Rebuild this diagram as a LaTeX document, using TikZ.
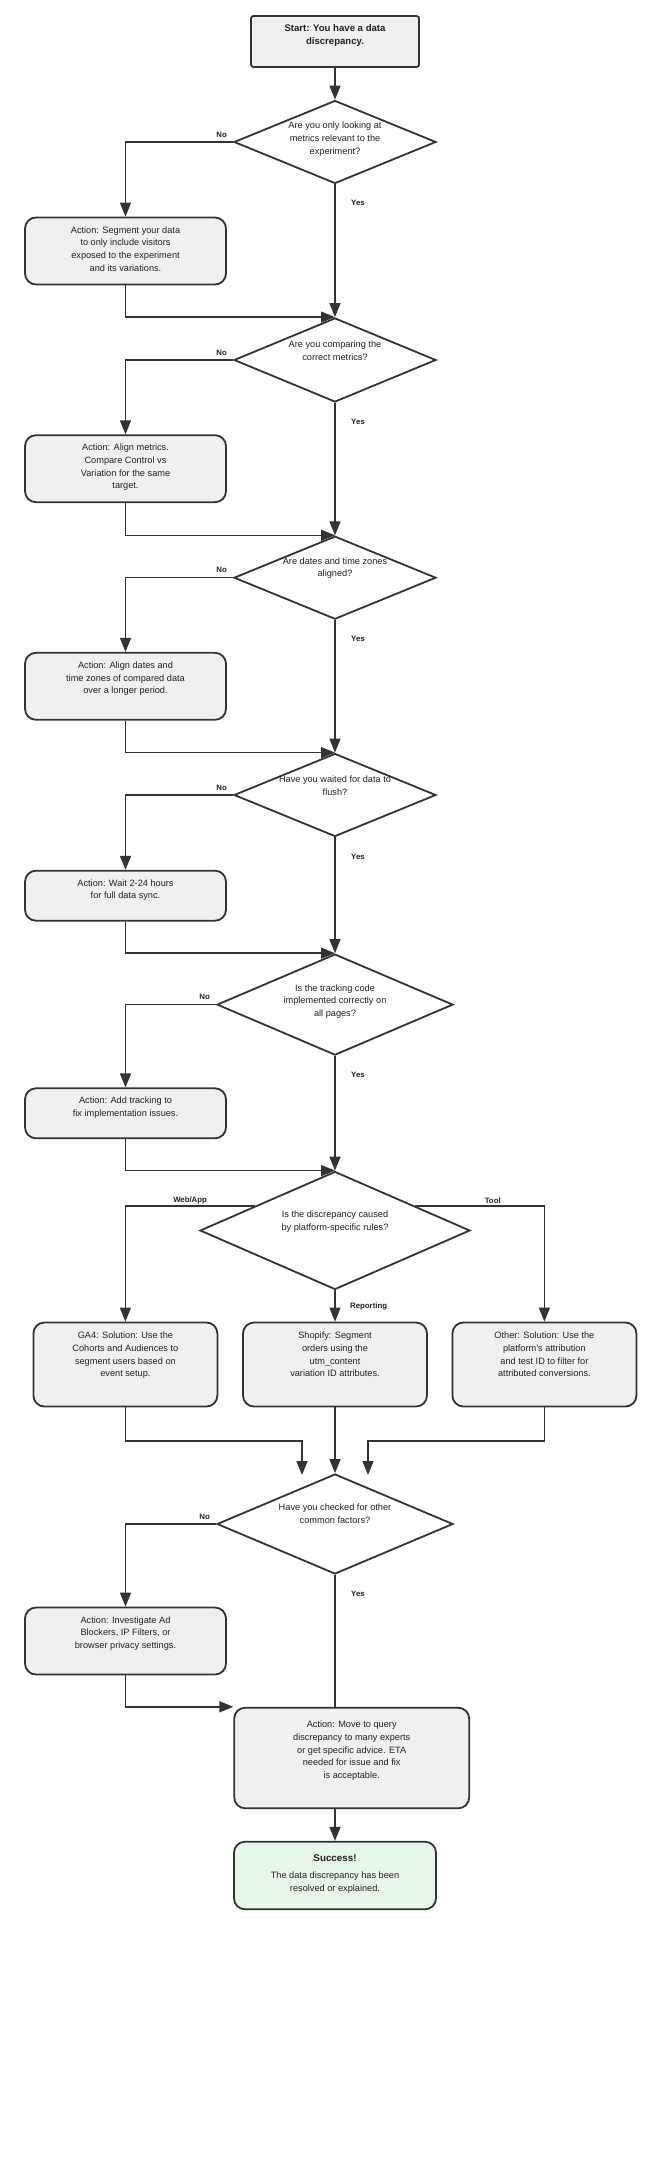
\documentclass[tikz,border=0pt]{standalone}
\usepackage{fontspec}
\setmainfont{Liberation Sans}
\usetikzlibrary{positioning,shapes.geometric,arrows.meta}
\definecolor{LineGray}{HTML}{333333}
\definecolor{TextGray}{HTML}{222222}
\definecolor{BoxGray}{HTML}{F0F0F0}
\definecolor{DoneGreen}{HTML}{E8F5E9}

\begin{document}
\begin{tikzpicture}[
    x=1pt, y=-1pt,
    actbox/.style={
        rectangle,
        draw=LineGray,
        line width=1.8pt,
        fill=BoxGray,
        rounded corners=11pt,
        minimum width=201pt
    },
    startbox/.style={
        actbox,
        rounded corners=2.5pt,
        minimum width=168pt,
        minimum height=51pt
    },
    decision/.style={
        diamond,
        draw=LineGray,
        line width=1.8pt,
        fill=white,
        inner sep=0pt,
        minimum width=202pt,
        minimum height=83pt
    },
    txt/.style={
        align=center,
        text=TextGray,
        font=\fontsize{9.2}{12.7}\selectfont,
        inner sep=0pt
    },
    boxtext/.style={txt, anchor=north, yshift=-#1},
    boxtext/.default=9.6pt,
    qtext/.style={txt, yshift=#1},
    qtext/.default=9.5pt,
    answer/.style={
        font=\bfseries\fontsize{7.8}{9}\selectfont,
        text=TextGray,
        inner sep=1.5pt
    },
    nolabel/.style={answer, anchor=south east, xshift=-4pt, yshift=2.5pt},
    yeslabel/.style={answer, anchor=north west, xshift=14pt, yshift=-14pt},
    link/.style={draw=LineGray, line width=1.45pt},
    linkarrow/.style={link, -{Triangle[length=14pt, width=11pt]}}
]

\useasboundingbox[fill=white] (0,0) rectangle (670,2177);

% start
\node[startbox,
    label={[boxtext, font=\bfseries\fontsize{9.6}{12.7}\selectfont]north:{Start: You have a data\\discrepancy.}}]
    (start) at (335,41.5) {};

% questions down the main line
\node[decision, label={[qtext=3pt]center:{Are you only looking at\\metrics relevant to the\\experiment?}}]
    (q1) at (335,142) {};
\node[decision, minimum height=84pt, label={[qtext]center:{Are you comparing the\\correct metrics?}}]
    (q2) at (335,360) {};
\node[decision, label={[qtext=9.7pt]center:{Are dates and time zones\\aligned?}}]
    (q3) at (335,577.7) {};
\node[decision, label={[qtext=9pt]center:{Have you waited for data to\\flush?}}]
    (q4) at (335,795) {};
\node[decision, minimum width=236pt, minimum height=101pt,
    label={[qtext=3pt]center:{Is the tracking code\\implemented correctly on\\all pages?}}]
    (q5) at (335,1004.6) {};
\node[decision, minimum width=270pt, minimum height=118pt,
    label={[qtext=9pt]center:{Is the discrepancy caused\\by platform-specific rules?}}]
    (q6) at (335,1230.5) {};
\node[decision, minimum width=236pt, minimum height=100pt,
    label={[qtext=10pt]center:{Have you checked for other\\common factors?}}]
    (q7) at (335,1524) {};

% actions on the left
\node[actbox, minimum height=67pt,
    label={[boxtext]north:{Action: Segment your data\\to only include visitors\\exposed to the experiment\\and its variations.}}]
    (a1) at (125.5,251) {};
\node[actbox, minimum height=67pt,
    label={[boxtext]north:{Action: Align metrics.\\Compare Control vs\\Variation for the same\\target.}}]
    (a2) at (125.5,468.7) {};
\node[actbox, minimum height=67pt,
    label={[boxtext]north:{Action: Align dates and\\time zones of compared data\\over a longer period.}}]
    (a3) at (125.5,686.3) {};
\node[actbox, minimum height=50pt,
    label={[boxtext]north:{Action: Wait 2-24 hours\\for full data sync.}}]
    (a4) at (125.5,895.7) {};
\node[actbox, minimum height=50pt,
    label={[boxtext]north:{Action: Add tracking to\\fix implementation issues.}}]
    (a5) at (125.5,1113.3) {};
\node[actbox, minimum height=67pt,
    label={[boxtext]north:{Action: Investigate Ad\\Blockers, IP Filters, or\\browser privacy settings.}}]
    (a7) at (125.5,1641) {};

% platform solutions
\node[actbox, minimum width=184pt, minimum height=84pt,
    label={[boxtext=10.3pt]north:{GA4: Solution: Use the\\Cohorts and Audiences to\\segment users based on\\event setup.}}]
    (ga4) at (125.4,1364.5) {};
\node[actbox, minimum width=184pt, minimum height=84pt,
    label={[boxtext=10.3pt]north:{Shopify: Segment\\orders using the\\utm\_content\\variation ID attributes.}}]
    (shop) at (335,1364.5) {};
\node[actbox, minimum width=184pt, minimum height=84pt,
    label={[boxtext=10.3pt]north:{Other: Solution: Use the\\platform's attribution\\and test ID to filter for\\attributed conversions.}}]
    (other) at (544.4,1364.5) {};

% end of the chart
\node[actbox, minimum width=235pt, minimum height=100.6pt,
    label={[boxtext=14.2pt]north:{Action: Move to query\\discrepancy to many experts\\or get specific advice. ETA\\needed for issue and fix\\is acceptable.}}]
    (final) at (351.7,1758) {};
\node[actbox, fill=DoneGreen, minimum width=202pt, minimum height=67.6pt,
    label={[boxtext=13.3pt]north:{{\bfseries\fontsize{9.8}{12.7}\selectfont Success!}\\[4.6pt]The data discrepancy has been\\resolved or explained.}}]
    (success) at (335,1875.5) {};

\coordinate (inL) at (302,1475);
\coordinate (inR) at (368,1475);

% connectors
\draw[linkarrow] (start.south) -- (q1.north);

\draw[linkarrow] (q1.west) -| node[nolabel, pos=0] {No} (a1.north);
\draw[linkarrow] (q1.south) -- node[yeslabel, pos=0] {Yes} (q2.north);
\draw[linkarrow] (a1.south) |- (q2.north);

\draw[linkarrow] (q2.west) -| node[nolabel, pos=0] {No} (a2.north);
\draw[linkarrow] (q2.south) -- node[yeslabel, pos=0] {Yes} (q3.north);
\draw[linkarrow] (a2.south) |- (q3.north);

\draw[linkarrow] (q3.west) -| node[nolabel, pos=0] {No} (a3.north);
\draw[linkarrow] (q3.south) -- node[yeslabel, pos=0] {Yes} (q4.north);
\draw[linkarrow] (a3.south) |- (q4.north);

\draw[linkarrow] (q4.west) -| node[nolabel, pos=0] {No} (a4.north);
\draw[linkarrow] (q4.south) -- node[yeslabel, pos=0] {Yes} (q5.north);
\draw[linkarrow] (a4.south) |- (q5.north);

\draw[linkarrow] (q5.west) -| node[nolabel, pos=0] {No} (a5.north);
\draw[linkarrow] (q5.south) -- node[yeslabel, pos=0] {Yes} (q6.north);
\draw[linkarrow] (a5.south) |- (q6.north);

\draw[linkarrow] (q6.163) -| node[answer, above, pos=0.25] {Web/App} (ga4.north);
\draw[linkarrow] (q6.south) -- node[answer, right=13pt] {Reporting} (shop.north);
\draw[linkarrow] (q6.17) -| node[answer, above, pos=0.3] {Tool} (other.north);

\draw[linkarrow] (ga4.south) -- ++(0,33.5) -| (inL);
\draw[linkarrow] (shop.south) -- (q7.north);
\draw[linkarrow] (other.south) -- ++(0,33.5) -| (inR);

\draw[linkarrow] (q7.west) -| node[nolabel, pos=0] {No} (a7.north);
\draw[link] (q7.south) -- node[yeslabel, pos=0] {Yes} (q7.south |- final.north);
\draw[linkarrow] (a7.south) |- (final.north west);
\draw[linkarrow] (final.south -| success.north) -- (success.north);

\end{tikzpicture}
\end{document}
